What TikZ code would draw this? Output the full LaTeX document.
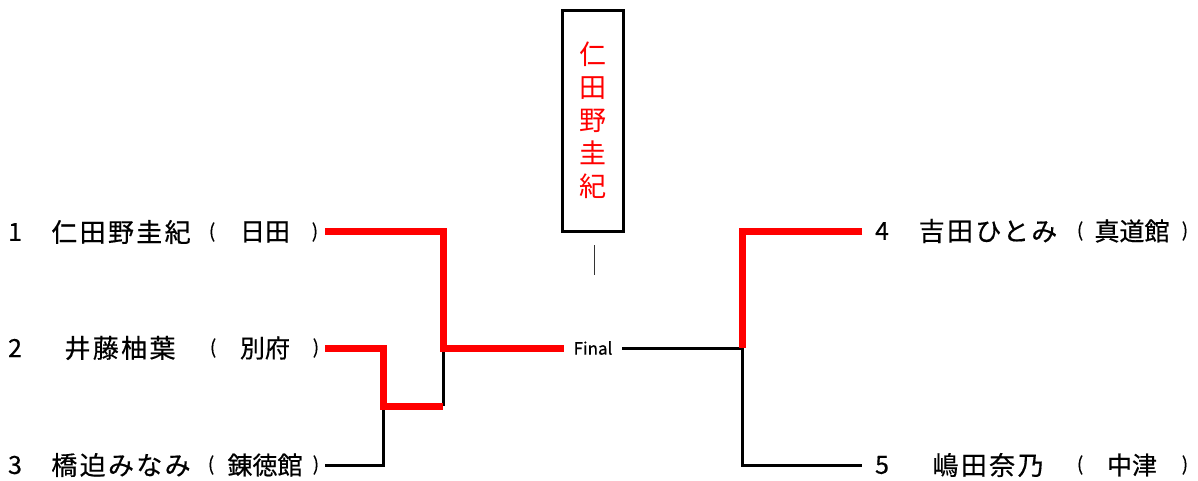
\documentclass[tikz,border=0pt]{standalone}
\usepackage{fontspec}
\setmainfont{Noto Sans CJK JP}
\newfontfamily\jpname[LetterSpace=9,FakeBold=0.5]{Noto Sans CJK JP}
\newfontfamily\jp[FakeBold=0.5]{Noto Sans CJK JP}
\newfontfamily\jpreg{Noto Sans CJK JP}
\begin{document}
\begin{tikzpicture}[x=1pt,y=-1pt,
  nm/.style={inner sep=0pt,font=\jpname\fontsize{26}{30}\selectfont},
  num/.style={inner sep=0pt,font=\jp\fontsize{25}{30}\selectfont},
  club/.style={inner sep=0pt,font=\jp\fontsize{25}{30}\selectfont},
  par/.style={inner sep=0pt,font=\jp\fontsize{19}{22}\selectfont},
  win/.style={red,line width=7pt},
  lose/.style={black,line width=3pt}]
\useasboundingbox (0,0) rectangle (1198,480);

% left entries
\node[num] (n1) at (15,232) {1};
\node[nm]  (a1) at (121,232) {仁田野圭紀};
\node[par] (l1) at (212,232) {(};
\node[club](c1) at (265,232) {日田};
\node[par] (r1) at (315,232) {)};

\node[num] (n2) at (15,348) {2};
\node[nm]  (a2) at (120,348) {井藤柚葉};
\node[par] (l2) at (213,348) {(};
\node[club](c2) at (265,348) {別府};
\node[par] (r2) at (316,348) {)};

\node[num] (n3) at (15,465) {3};
\node[nm]  (a3) at (121,465) {橋迫みなみ};
\node[par] (l3) at (211,465) {(};
\node[club](c3) at (265,465) {錬徳館};
\node[par] (r3) at (316,465) {)};

% right entries
\node[num] (n4) at (882,231) {4};
\node[nm]  (a4) at (988,231) {吉田ひとみ};
\node[par] (l4) at (1080,231) {(};
\node[club](c4) at (1132,231) {真道館};
\node[par] (r4) at (1185,231) {)};

\node[num] (n5) at (882,465) {5};
\node[nm]  (a5) at (988,465) {嶋田奈乃};
\node[par] (l5) at (1080,465) {(};
\node[club](c5) at (1132,465) {中津};
\node[par] (r5) at (1185,465) {)};

% final
\node[inner sep=0pt,minimum width=58pt,font=\jp\fontsize{17}{20}\selectfont] (final) at (593,348) {Final};

% champion box
\node[draw,line width=3pt,minimum width=61pt,minimum height=221pt,inner sep=0pt,
      text=red,align=center,font=\jpreg\fontsize{27}{33}\selectfont] (champ) at (592.5,120.5)
      {仁\\田\\野\\圭\\紀};
\coordinate (t1) at (594,245);
\coordinate (t2) at (594,275);
\draw[line width=1pt,black!80] (t1) -- (t2);

% bracket coordinates
\coordinate (e1) at (325,231);
\coordinate (e2) at (325,348);
\coordinate (e3) at (325,465);
\coordinate (e4) at (862,231);
\coordinate (e5) at (862,465);
\coordinate (j1) at (443,348);
\coordinate (j2) at (443,406);
\coordinate (k2) at (383,406);
\coordinate (jr) at (742,348);

% left side
\draw[lose] (j1) -- (j2);
\draw[lose] (e3) -| (k2);
\draw[win] (e2) -| (k2) -- (j2);
\draw[win] (e1) -| (j1) -- (final.west);

% right side
\draw[lose] (final.east) -- (jr);
\draw[lose] (jr) |- (e5);
\draw[win] (e4) -| (jr);
\end{tikzpicture}
\end{document}
